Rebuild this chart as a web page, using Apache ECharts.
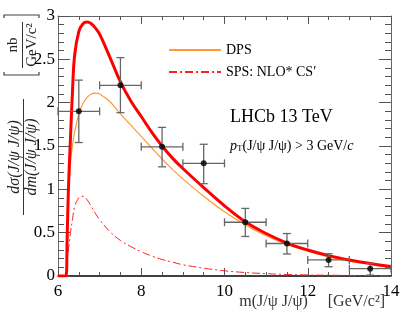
<!DOCTYPE html>
<html>
<head>
<meta charset="utf-8">
<script src="https://cdn.jsdelivr.net/npm/echarts@6/dist/echarts.min.js"></script>
<style>
  html, body { margin: 0; padding: 0; background: #fff; }
  #chart { width: 412px; height: 329px; }
</style>
</head>
<body>
<div id="chart"></div>
<script>
// measured points (bin centre, value, bin edges, error bounds)
var binCentre = [6.5, 7.5, 8.5, 9.5, 10.5, 11.5, 12.5, 13.5]
var binLow = [6, 7, 8, 9, 10, 11, 12, 13]
var binHigh = [7, 8, 9, 10, 11, 12, 13, 14]
var xsec = [1.90, 2.20, 1.49, 1.30, 0.62, 0.375, 0.185, 0.085]
var xsecLow = [1.54, 1.885, 1.26, 1.065, 0.456, 0.254, 0.107, 0.01]
var xsecHigh = [2.26, 2.52, 1.715, 1.52, 0.78, 0.49, 0.257, 0.146]

// model curves
var curveX = [6.0, 6.19, 6.22, 6.25, 6.3, 6.35, 6.4, 6.5, 6.6, 6.7, 6.8, 6.9, 7.0, 7.25, 7.5, 7.75, 8.0, 8.25, 8.5, 8.75, 9.0, 9.5, 10.0, 10.5, 11.0, 11.5, 12.0, 12.5, 13.0, 13.5, 14.0]
var totalY = [0, 0, 0.45, 1.0, 1.6, 2.15, 2.55, 2.82, 2.91, 2.93, 2.91, 2.86, 2.79, 2.52, 2.24, 2.02, 1.84, 1.66, 1.50, 1.36, 1.24, 1.02, 0.81, 0.625, 0.49, 0.38, 0.30, 0.235, 0.185, 0.145, 0.11]
var dpsY = [0, 0, 0.5, 0.95, 1.3, 1.52, 1.66, 1.87, 1.99, 2.06, 2.10, 2.11, 2.10, 2.01, 1.87, 1.74, 1.61, 1.48, 1.35, 1.23, 1.12, 0.92, 0.74, 0.59, 0.465, 0.365, 0.285, 0.22, 0.17, 0.135, 0.10]
var spsY = [0, 0, 0.2, 0.3, 0.5, 0.66, 0.8, 0.9, 0.92, 0.88, 0.80, 0.72, 0.65, 0.51, 0.41, 0.34, 0.28, 0.23, 0.19, 0.16, 0.13, 0.09, 0.06, 0.04, 0.027, 0.018, 0.012, 0.009, 0.007, 0.005, 0.004]

var serif = 'Liberation Serif'

function pairs (ys) {
  return curveX.map(function (x, i) { return [x, ys[i]] })
}

var errData = binCentre.map(function (x, i) {
  return [x, xsec[i], binLow[i], binHigh[i], xsecLow[i], xsecHigh[i]]
})

function renderErr (params, api) {
  var c = api.coord([api.value(0), api.value(1)])
  var l = api.coord([api.value(2), api.value(1)])
  var r = api.coord([api.value(3), api.value(1)])
  var b = api.coord([api.value(0), api.value(4)])
  var t = api.coord([api.value(0), api.value(5)])
  var st = { stroke: '#666', lineWidth: 1.3 }
  var cap = 4
  return {
    type: 'group',
    children: [
      { type: 'line', shape: { x1: l[0], y1: c[1], x2: r[0], y2: c[1] }, style: st },
      { type: 'line', shape: { x1: c[0], y1: b[1], x2: c[0], y2: t[1] }, style: st },
      { type: 'line', shape: { x1: l[0], y1: c[1] - cap, x2: l[0], y2: c[1] + cap }, style: st },
      { type: 'line', shape: { x1: r[0], y1: c[1] - cap, x2: r[0], y2: c[1] + cap }, style: st },
      { type: 'line', shape: { x1: c[0] - cap, y1: b[1], x2: c[0] + cap, y2: b[1] }, style: st },
      { type: 'line', shape: { x1: c[0] - cap, y1: t[1], x2: c[0] + cap, y2: t[1] }, style: st }
    ]
  }
}

// rotated label centred on (cx, cy), reading bottom to top
function vText (txt, font, cx, cy) {
  return {
    type: 'group',
    x: cx,
    y: cy,
    rotation: Math.PI / 2,
    children: [{
      type: 'text',
      x: 0,
      y: 0,
      style: { text: txt, font: font, fill: '#222', align: 'center', verticalAlign: 'middle' }
    }]
  }
}

var chart = echarts.init(document.getElementById('chart'), null, { renderer: 'canvas' })

var xTicks = {
  axisTick: { show: true, inside: true, length: 8, lineStyle: { color: '#555', width: 1 } },
  minorTick: { show: true, splitNumber: 4, length: 4, lineStyle: { color: '#555', width: 1 } }
}
var yTicks = {
  axisTick: { show: true, inside: true, length: 12, lineStyle: { color: '#555', width: 1 } },
  minorTick: { show: true, splitNumber: 5, length: 6, lineStyle: { color: '#555', width: 1 } }
}

var fracFont = 'italic 16px ' + serif
var unitFont = '15px ' + serif

chart.setOption({
  animation: false,
  grid: { left: 58, right: 21, top: 16, bottom: 53 },
  legend: {
    data: ['DPS', 'SPS: NLO* CS′'],
    orient: 'vertical',
    left: 163,
    top: 38,
    itemWidth: 52,
    itemHeight: 14,
    itemGap: 8,
    itemStyle: { opacity: 0 },
    lineStyle: { width: 2 },
    textStyle: { fontFamily: serif, fontSize: 14, color: '#000' }
  },
  xAxis: [
    Object.assign({
      type: 'value', min: 6, max: 14, interval: 2, position: 'bottom',
      axisLine: { show: true, onZero: false, lineStyle: { color: '#000', width: 1.5 } },
      axisLabel: { fontFamily: serif, fontSize: 17, color: '#000', margin: 7 },
      splitLine: { show: false }
    }, xTicks),
    Object.assign({
      type: 'value', min: 6, max: 14, interval: 2, position: 'top',
      axisLine: { show: true, onZero: false, lineStyle: { color: '#666', width: 1 } },
      axisLabel: { show: false },
      splitLine: { show: false }
    }, xTicks)
  ],
  yAxis: [
    Object.assign({
      type: 'value', min: 0, max: 3, interval: 0.5, position: 'left',
      axisLine: { show: true, onZero: false, lineStyle: { color: '#666', width: 1 } },
      axisLabel: { fontFamily: serif, fontSize: 17, color: '#000', margin: 3 },
      splitLine: { show: false }
    }, yTicks),
    Object.assign({
      type: 'value', min: 0, max: 3, interval: 0.5, position: 'right',
      axisLine: { show: true, onZero: false, lineStyle: { color: '#666', width: 1 } },
      axisLabel: { show: false },
      splitLine: { show: false }
    }, yTicks)
  ],
  series: [
    {
      name: 'SPS: NLO* CS′',
      type: 'line',
      data: pairs(spsY),
      smooth: 0.4,
      symbol: 'none',
      lineStyle: { color: '#ff2020', width: 1, type: [8, 3, 2, 3] },
      itemStyle: { color: '#ff0000' },
      z: 2
    },
    {
      name: 'DPS',
      type: 'line',
      data: pairs(dpsY),
      smooth: 0.4,
      symbol: 'none',
      lineStyle: { color: '#ff9933', width: 1.2 },
      itemStyle: { color: '#ffaa00' },
      z: 3
    },
    {
      name: 'total',
      type: 'line',
      data: pairs(totalY),
      smooth: 0.4,
      symbol: 'none',
      lineStyle: { color: '#ff0000', width: 3 },
      z: 4
    },
    {
      type: 'custom',
      renderItem: renderErr,
      data: errData,
      encode: { x: 0, y: 1 },
      z: 5
    },
    {
      type: 'scatter',
      data: binCentre.map(function (x, i) { return [x, xsec[i]] }),
      symbolSize: 6,
      itemStyle: { color: '#000' },
      z: 6
    }
  ],
  graphic: [
    // y-axis title, rotated
    vText('dσ(J/ψ J/ψ)', fracFont, 15, 157),
    { type: 'line', shape: { x1: 23.5, y1: 99, x2: 23.5, y2: 215 }, style: { stroke: '#333', lineWidth: 1 } },
    vText('dm(J/ψ J/ψ)', fracFont, 32, 157),
    vText('nb', unitFont, 13, 45),
    { type: 'line', shape: { x1: 22.5, y1: 22, x2: 22.5, y2: 68 }, style: { stroke: '#333', lineWidth: 1 } },
    vText('GeV/c²', unitFont, 32, 45),
    { type: 'polyline', shape: { points: [[4, 72], [4, 75], [39, 75], [39, 72]] }, style: { stroke: '#444', lineWidth: 1.2, fill: null } },
    { type: 'polyline', shape: { points: [[4, 18], [4, 15], [39, 15], [39, 18]] }, style: { stroke: '#444', lineWidth: 1.2, fill: null } },
    // labels in the plot
    { type: 'text', x: 230, y: 117, style: { text: 'LHCb 13 TeV', font: '18px ' + serif, fill: '#000', verticalAlign: 'middle' } },
    {
      type: 'text', x: 230, y: 146,
      style: {
        text: '{i|p}{s|T}(J/ψ J/ψ) > 3 GeV/{i|c}',
        font: '14px ' + serif, fill: '#000', verticalAlign: 'middle',
        rich: {
          i: { fontFamily: serif, fontStyle: 'italic', fontSize: 14 },
          s: { fontFamily: serif, fontSize: 9, verticalAlign: 'bottom', padding: [6, 0, 0, 0] }
        }
      }
    },
    // x-axis title
    { type: 'text', x: 385, y: 302, style: { text: 'm(J/ψ J/ψ)     [GeV/c²]', font: '16px ' + serif, fill: '#333', align: 'right', verticalAlign: 'middle' } }
  ]
})
</script>
</body>
</html>
